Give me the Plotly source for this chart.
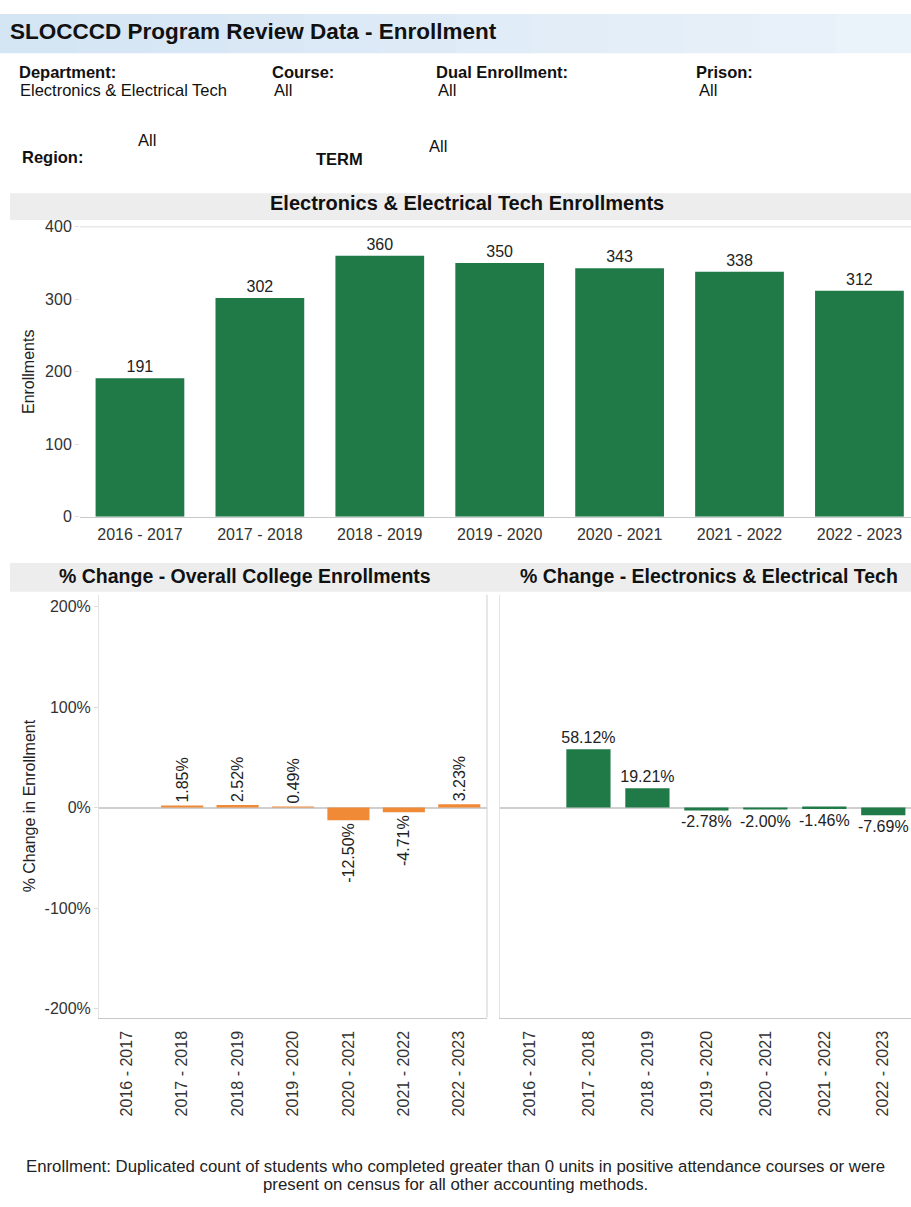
import plotly.graph_objects as go

W, H = 911, 1207

years = ["2016 - 2017", "2017 - 2018", "2018 - 2019", "2019 - 2020",
         "2020 - 2021", "2021 - 2022", "2022 - 2023"]
enrollments = [191, 302, 360, 350, 343, 338, 312]
college_pct = [None, 1.85, 2.52, 0.49, -12.50, -4.71, 3.23]
dept_pct = [None, 58.12, 19.21, -2.78, -2.00, -1.46, -7.69]
pct_ticks = [-200, -100, 0, 100, 200]
pct_ticktext = ["-200%", "-100%", "0%", "100%", "200%"]

GREEN = "#1f7a48"
ORANGE = "#f08a36"
FONT = "Liberation Sans, Arial, sans-serif"

def px(x):
    return x / W

def py(y):
    return 1 - y / H

def fmt(v):
    return "" if v is None else f"{v:.2f}%"

fig = go.Figure()

fig.add_trace(go.Bar(
    x=years, y=enrollments, marker_color=GREEN, marker_line_width=0,
    width=0.74, text=[str(v) for v in enrollments], textposition="outside",
    textfont=dict(size=16, color="#222"), cliponaxis=False,
    xaxis="x", yaxis="y", showlegend=False, hoverinfo="skip"))

fig.add_trace(go.Bar(
    x=years, y=college_pct, marker_color=ORANGE, marker_line_width=0,
    width=0.76, text=[fmt(v) for v in college_pct], textposition="outside",
    textangle=-90, constraintext="none",
    textfont=dict(size=16, color="#222"), cliponaxis=False,
    xaxis="x2", yaxis="y2", showlegend=False, hoverinfo="skip"))

fig.add_trace(go.Bar(
    x=years, y=dept_pct, marker_color=GREEN, marker_line_width=0,
    width=0.75, text=[fmt(v) for v in dept_pct], textposition="outside",
    textangle=0, constraintext="none",
    textfont=dict(size=16, color="#222"), cliponaxis=False,
    xaxis="x3", yaxis="y3", showlegend=False, hoverinfo="skip"))

tickfont = dict(size=16, color="#333", family=FONT)

fig.update_layout(
    width=W, height=H, margin=dict(l=0, r=0, t=0, b=0),
    paper_bgcolor="white", plot_bgcolor="white",
    font=dict(family=FONT, color="#111"),
    uniformtext=dict(mode=False),
    xaxis=dict(domain=[px(80), 1], range=[-0.5, 6.43], type="category",
               showgrid=False, showline=True, linecolor="#c8c8c8",
               ticks="", tickfont=tickfont, fixedrange=True,
               ticklabelstandoff=3),
    yaxis=dict(domain=[py(516), py(222)], range=[0, 400], showgrid=False,
               zeroline=False, tickvals=[0, 100, 200, 300, 400],
               ticks="outside", ticklen=4, tickcolor="#ddd",
               tickfont=tickfont, showline=False,
               title=dict(text="Enrollments", font=dict(size=16, color="#222"),
                          standoff=6)),
    xaxis2=dict(domain=[px(99), px(487)], range=[-0.5, 6.5], type="category",
                anchor="y2", showgrid=False, showline=True, linecolor="#c8c8c8",
                ticks="", tickangle=-90, tickfont=tickfont, fixedrange=True,
                ticklabelstandoff=6),
    yaxis2=dict(domain=[py(1024), py(595)], range=[-209, 212], anchor="x2",
                showgrid=False, zeroline=True, zerolinecolor="#cfcfcf",
                zerolinewidth=2, tickvals=pct_ticks, ticktext=pct_ticktext,
                ticks="outside", ticklen=4, tickcolor="#ddd", tickfont=tickfont,
                showline=True, linecolor="#e4e4e4",
                title=dict(text="% Change in Enrollment",
                           font=dict(size=16, color="#222"), standoff=4)),
    xaxis3=dict(domain=[px(500), 1], range=[-0.5, 6.47], type="category",
                anchor="y3", showgrid=False, showline=True, linecolor="#c8c8c8",
                ticks="", tickangle=-90, tickfont=tickfont, fixedrange=True,
                ticklabelstandoff=6),
    yaxis3=dict(domain=[py(1024), py(595)], range=[-209, 212], anchor="x3",
                showgrid=False, zeroline=True, zerolinecolor="#cfcfcf",
                zerolinewidth=2, showticklabels=False, ticks="",
                showline=True, linecolor="#e4e4e4"),
)

shapes = []
# header band (simulated gradient)
steps = 12
for i in range(steps):
    x0 = i / steps
    x1 = (i + 1) / steps
    t = i / (steps - 1)
    r = int(212 + (234 - 212) * t)
    g = int(229 + (242 - 229) * t)
    b = int(244 + (250 - 244) * t)
    shapes.append(dict(type="rect", xref="paper", yref="paper",
                       x0=x0, x1=x1 + 0.001, y0=py(46), y1=py(6),
                       fillcolor=f"rgb({r},{g},{b})", line_width=0, layer="below"))
# chart title bands
for (y0, y1) in [(188, 215), (563, 592)]:
    shapes.append(dict(type="rect", xref="paper", yref="paper",
                       x0=px(10), x1=1, y0=py(y1), y1=py(y0),
                       fillcolor="#ededed", line_width=0, layer="below"))
# top border of top chart
shapes.append(dict(type="line", xref="paper", yref="paper",
                   x0=px(80), x1=1, y0=py(222), y1=py(222),
                   line=dict(color="#dcdcdc", width=1)))
# divider between bottom panels
shapes.append(dict(type="line", xref="paper", yref="paper",
                   x0=px(487), x1=px(487), y0=py(1024), y1=py(595),
                   line=dict(color="#cfcfcf", width=1)))
fig.update_layout(shapes=shapes)

ann = []
def txt(x, y, s, size=16.5, bold=False, xanchor="left", color="#111"):
    ann.append(dict(xref="paper", yref="paper", x=px(x), y=py(y),
                    text=f"<b>{s}</b>" if bold else s, showarrow=False,
                    xanchor=xanchor, yanchor="middle",
                    font=dict(size=size, color=color, family=FONT)))

txt(8, 24, "SLOCCCD Program Review Data - Enrollment", size=22.5, bold=True)
txt(17, 65, "Department:", bold=True)
txt(18, 83, "Electronics & Electrical Tech")
txt(270, 65, "Course:", bold=True)
txt(272, 83, "All")
txt(434, 65, "Dual Enrollment:", bold=True)
txt(436, 83, "All")
txt(694, 65, "Prison:", bold=True)
txt(697, 83, "All")
txt(20, 151, "Region:", bold=True)
txt(136, 134, "All")
txt(314, 153, "TERM", bold=True)
txt(427, 140, "All")
txt(467, 198, "Electronics & Electrical Tech Enrollments", size=20, bold=True,
    xanchor="center")
txt(245, 576, "% Change - Overall College Enrollments", size=19.5, bold=True,
    xanchor="center")
txt(709, 576, "% Change - Electronics & Electrical Tech", size=19.5, bold=True,
    xanchor="center")
txt(455, 1175, "Enrollment: Duplicated count of students who completed greater than 0 units in positive attendance courses or were",
    size=16.8, xanchor="center", color="#222")
txt(455, 1193, "present on census for all other accounting methods.",
    size=16.8, xanchor="center", color="#222")
fig.update_layout(annotations=ann)

fig.write_html("out.html")
